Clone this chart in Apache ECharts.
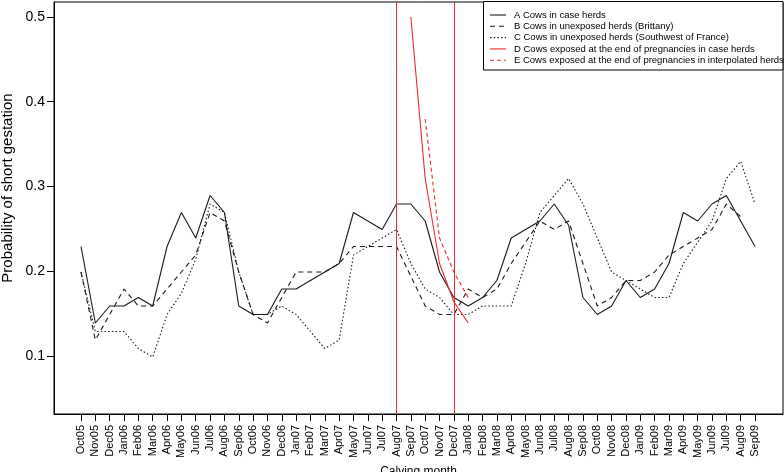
<!DOCTYPE html>
<html>
<head>
<meta charset="utf-8">
<script src="https://cdn.jsdelivr.net/npm/echarts@6/dist/echarts.min.js"></script>
<style>
html,body{margin:0;padding:0;background:#fff;}
#chart{width:784px;height:472px;}
</style>
</head>
<body>
<div id="chart"></div>
<script>
const months = ['Oct05','Nov05','Dec05','Jan06','Feb06','Mar06','Apr06','May06','Jun06','Jul06','Aug06','Sep06',
  'Oct06','Nov06','Dec06','Jan07','Feb07','Mar07','Apr07','May07','Jun07','Jul07','Aug07','Sep07',
  'Oct07','Nov07','Dec07','Jan08','Feb08','Mar08','Apr08','May08','Jun08','Jul08','Aug08','Sep08',
  'Oct08','Nov08','Dec08','Jan09','Feb09','Mar09','Apr09','May09','Jun09','Jul09','Aug09','Sep09'];

const seriesA = [0.23,0.14,0.16,0.16,0.17,0.16,0.23,0.27,0.24,0.29,0.27,0.16,
  0.15,0.15,0.18,0.18,0.19,0.20,0.21,0.27,0.26,0.25,0.28,0.28,
  0.26,0.20,0.17,0.16,0.17,0.19,0.24,0.25,0.26,0.28,0.255,0.17,
  0.15,0.16,0.19,0.17,0.18,0.21,0.27,0.26,0.28,0.29,0.26,0.23];

const seriesB = [0.20,0.12,0.15,0.18,0.16,0.16,0.18,0.20,0.22,0.27,0.26,0.20,
  0.15,0.14,0.17,0.20,0.20,0.20,0.21,0.23,0.23,0.23,0.23,0.195,
  0.16,0.15,0.15,0.18,0.17,0.18,0.21,0.235,0.26,0.25,0.26,0.21,
  0.16,0.17,0.19,0.19,0.20,0.22,0.23,0.24,0.25,0.28,0.265,null];

const seriesC = [0.20,0.13,0.13,0.13,0.11,0.10,0.15,0.175,0.215,0.28,0.27,0.20,
  0.15,0.15,0.16,0.15,0.13,0.11,0.12,0.22,0.23,0.24,0.25,0.21,
  0.18,0.17,0.15,0.15,0.16,0.16,0.16,0.21,0.27,0.29,0.31,0.28,
  0.24,0.20,0.19,0.18,0.17,0.17,0.21,0.235,0.26,0.31,0.33,0.28];

const seriesD = [null,null,null,null,null,null,null,null,null,null,null,null,
  null,null,null,null,null,null,null,null,null,null,null,0.50,
  0.31,0.21,0.165,0.14,null,null,null,null,null,null,null,null,
  null,null,null,null,null,null,null,null,null,null,null,null];

const seriesE = [null,null,null,null,null,null,null,null,null,null,null,null,
  null,null,null,null,null,null,null,null,null,null,null,null,
  0.38,0.24,0.20,0.17,null,null,null,null,null,null,null,null,
  null,null,null,null,null,null,null,null,null,null,null,null];

const seriesNames = [
  'A Cows in case herds',
  'B Cows in unexposed herds (Brittany)',
  'C Cows in unexposed herds (Southwest of France)',
  'D Cows exposed at the end of pregnancies in case herds',
  'E Cows exposed at the end of pregnancies in interpolated herds'
];

const yTickMin = 0.1, yTickMax = 0.5, yTickStep = 0.1;
const markMonths = ['Aug07', 'Dec07'];

const FONT = 'Liberation Sans, Arial, sans-serif';
const BLACK = '#1a1a1a';
const RED = '#ee2a2a';
// position on the x scale (Oct05 = 2, so that the padded range stays above 0)
const X0 = 2;
const monthPos = i => i + X0;

const styles = [
  {color: BLACK, type: 'solid'},
  {color: BLACK, type: [5, 4]},
  {color: BLACK, type: [1.5, 2.2]},
  {color: RED, type: 'solid'},
  {color: RED, type: [4, 3]}
];
const allData = [seriesA, seriesB, seriesC, seriesD, seriesE];
const xTicks = months.map((m, i) => monthPos(i));

const series = allData.map((arr, k) => ({
  name: seriesNames[k],
  type: 'line',
  xAxisIndex: 0,
  yAxisIndex: 0,
  data: arr.map((v, i) => [monthPos(i), v]),
  symbol: 'none',
  connectNulls: false,
  clip: false,
  lineStyle: {color: styles[k].color, type: styles[k].type, width: 1.1},
  itemStyle: {color: styles[k].color},
  z: 3
}));

series.push({
  type: 'line',
  xAxisIndex: 0,
  yAxisIndex: 0,
  data: [],
  markLine: {
    silent: true,
    symbol: 'none',
    label: {show: false},
    lineStyle: {color: RED, type: 'solid', width: 1},
    data: markMonths.map(m => ({xAxis: monthPos(months.indexOf(m))}))
  }
});

const legendGraphics = [{
  type: 'rect',
  shape: {x: 483.5, y: 1.5, width: 299.5, height: 68.5},
  style: {fill: '#fff', stroke: '#000', lineWidth: 1},
  z: 10
}];
seriesNames.forEach((name, k) => {
  const y = 15 + k * 11.3;
  legendGraphics.push({
    type: 'line',
    shape: {x1: 490, y1: y, x2: 506, y2: y},
    style: {stroke: styles[k].color, lineWidth: 1.1, lineDash: styles[k].type === 'solid' ? null : styles[k].type},
    z: 11
  });
  legendGraphics.push({
    type: 'text',
    x: 514, y: y,
    style: {text: name, fill: '#000', font: '9.5px ' + FONT, textVerticalAlign: 'middle', textAlign: 'left'},
    z: 11
  });
});
legendGraphics.push({
  type: 'text',
  x: 8, y: 188,
  rotation: Math.PI / 2,
  style: {text: 'Probability of short gestation', fill: '#000', font: '15px ' + FONT, textAlign: 'center', textVerticalAlign: 'middle'}
});

const chart = echarts.init(document.getElementById('chart'), null, {renderer: 'canvas'});
chart.setOption({
  animation: false,
  backgroundColor: '#fff',
  grid: [
    {left: 54, right: 1, top: 2, bottom: 58, containLabel: false, outerBoundsMode: 'none',
      show: true, borderColor: '#000', borderWidth: 1, backgroundColor: 'transparent'},
    // tick band for the y axis: spans exactly the 0.1 .. 0.5 range of the plot scale
    {left: 54, right: 1, top: 17, bottom: 116, containLabel: false, outerBoundsMode: 'none', show: false}
  ],
  xAxis: [{
    type: 'value',
    gridIndex: 0,
    position: 'bottom',
    min: X0 - 1.883,
    max: X0 + 48.95,
    axisLine: {show: true, lineStyle: {color: '#000', width: 1}},
    splitLine: {show: false},
    axisTick: {show: true, inside: false, length: 7, lineStyle: {color: '#000', width: 1}, customValues: xTicks},
    axisLabel: {customValues: xTicks, rotate: 90, margin: 11, fontSize: 11, fontFamily: FONT, color: '#000',
      formatter: v => months[Math.round(v) - X0]},
    name: 'Calving month',
    nameLocation: 'middle',
    nameGap: 41,
    nameTextStyle: {fontSize: 12, fontFamily: FONT, color: '#000'}
  }, {
    type: 'value',
    gridIndex: 1,
    min: 0,
    max: 1,
    show: false
  }],
  yAxis: [{
    type: 'value',
    gridIndex: 0,
    position: 'left',
    min: 0.5 - 397 / 850,
    max: 0.5 + 15 / 850,
    axisLine: {show: true, lineStyle: {color: '#000', width: 1}},
    splitLine: {show: false},
    axisTick: {show: false},
    axisLabel: {show: false}
  }, {
    type: 'value',
    gridIndex: 1,
    position: 'left',
    min: yTickMin,
    max: yTickMax,
    interval: yTickStep,
    axisLine: {show: false},
    splitLine: {show: false},
    axisTick: {show: true, inside: false, length: 7, lineStyle: {color: '#000', width: 1}},
    axisLabel: {show: true, margin: 9, fontSize: 14, fontFamily: FONT, color: '#000',
      formatter: v => v.toFixed(1)}
  }],
  graphic: legendGraphics,
  series: series
});
</script>
</body>
</html>
